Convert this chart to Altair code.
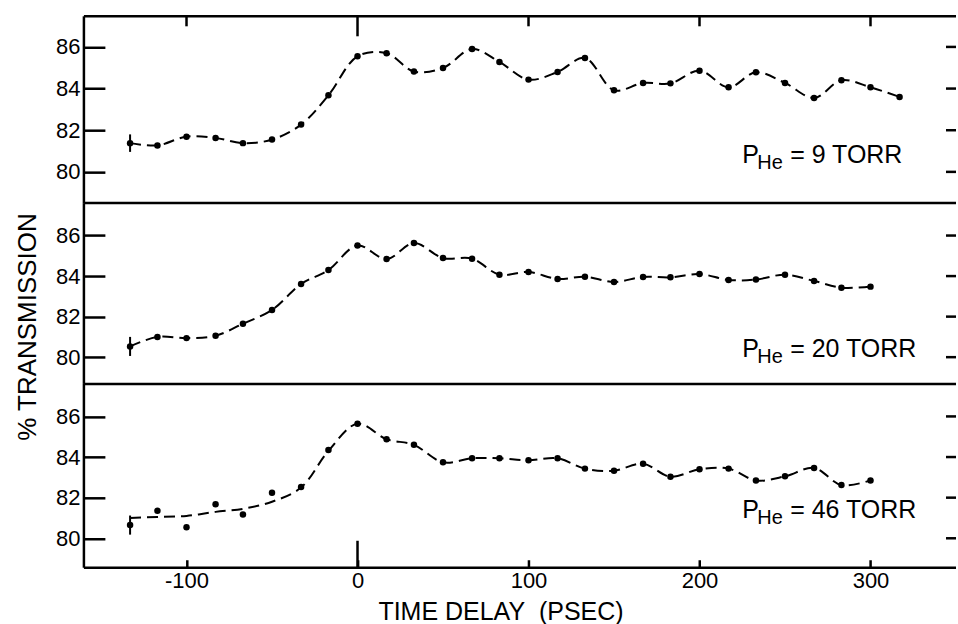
import altair as alt
import pandas as pd

FONT = "Liberation Sans"

# time delay (ps) of the measured points
X_DELAY = [-133, -117, -100, -83, -67, -50, -33, -17, 0, 17, 33, 50, 67, 83,
           100, 117, 133, 150, 167, 183, 200, 217, 233, 250, 267, 283, 300, 317]

# % transmission, P_He = 9 torr (28 points)
T_9 = [81.38, 81.27, 81.69, 81.63, 81.38, 81.55, 82.27, 83.68, 85.55, 85.70,
       84.82, 84.99, 85.90, 85.28, 84.43, 84.80, 85.47, 83.92, 84.27, 84.25,
       84.86, 84.06, 84.78, 84.27, 83.55, 84.40, 84.06, 83.60]

# % transmission, P_He = 20 torr (27 points)
T_20 = [80.53, 81.00, 80.94, 81.06, 81.65, 82.33, 83.61, 84.30, 85.51, 84.84,
        85.63, 84.89, 84.86, 84.07, 84.20, 83.86, 83.97, 83.71, 83.96, 83.94,
        84.10, 83.81, 83.83, 84.07, 83.76, 83.43, 83.48]

# % transmission, P_He = 46 torr (27 points)
T_46 = [80.65, 81.36, 80.54, 81.68, 81.17, 82.24, 82.52, 84.35, 85.64, 84.88,
        84.60, 83.74, 83.94, 83.94, 83.84, 83.94, 83.43, 83.33, 83.67, 83.03,
        83.40, 83.43, 82.85, 83.05, 83.46, 82.62, 82.85]

# dashed guide curve drawn through the 46 torr data
FIT_46 = [81.00, 81.05, 81.10, 81.30, 81.45, 81.80, 82.50, 84.30, 85.64, 84.88,
          84.60, 83.74, 83.94, 83.94, 83.84, 83.94, 83.43, 83.33, 83.67, 83.03,
          83.40, 83.43, 82.85, 83.05, 83.46, 82.62, 82.85]

ERR = [0.42, 0.47, 0.47]          # half-length of the error bar on the first point
PRESSURES = ["9", "20", "46"]
Y_TICKS = [80, 82, 84, 86]
X_TICKS = [-100, 0, 100, 200, 300]

# layout
W = 873
HEIGHTS = [187, 181, 184]
Y_DOMAINS = [[78.5, 87.47], [78.68, 87.6], [78.55, 87.6]]
X_DOMAIN = [-160, 350]
LABEL_X = 225
LABEL_Y = [80.42, 80.0, 81.02]

one = pd.DataFrame({"a": [0]})


def panel(i, xs, ys, curve):
    H = HEIGHTS[i]
    first = i == 0
    last = i == 2
    pts = pd.DataFrame({"t": xs, "v": ys})
    crv = pd.DataFrame({"t": xs, "v": curve})
    err = pd.DataFrame({"t": [xs[0]], "lo": [ys[0] - ERR[i]], "hi": [ys[0] + ERR[i]]})

    xscale = alt.Scale(domain=X_DOMAIN, nice=False, zero=False)
    yscale = alt.Scale(domain=Y_DOMAINS[i], nice=False, zero=False)
    if last:
        xaxis = alt.Axis(values=X_TICKS, tickSize=8, offset=-8, domain=False, grid=False,
                         labelFontSize=22, labelPadding=3, labelFlush=False,
                         labelExpr="datum.value < 0 ? '-' + abs(datum.value) : '' + datum.value",
                         title="TIME DELAY\u00a0 (PSEC)", titleFontSize=25, titleFont=FONT,
                         titleFontWeight="normal", titleX=417, titleY=60,
                         titleBaseline="alphabetic", titleAlign="center", titleColor="black")
    else:
        xaxis = None
    yaxis = alt.Axis(values=Y_TICKS, tickSize=21, offset=-21, domain=False, grid=False,
                     labelFontSize=22, labelPadding=4, title=None)

    x = alt.X("t:Q", scale=xscale, axis=xaxis)
    y = alt.Y("v:Q", scale=yscale, axis=yaxis)

    layers = []
    layers.append(alt.Chart(crv).mark_line(color="black", strokeWidth=2, strokeDash=[11, 6],
                                           interpolate="catmull-rom").encode(x=x, y=y))
    layers.append(alt.Chart(pts).mark_circle(color="black", size=42, opacity=1)
                  .encode(x="t:Q", y="v:Q"))
    layers.append(alt.Chart(err).mark_rule(color="black", strokeWidth=2)
                  .encode(x="t:Q", y="lo:Q", y2="hi:Q"))
    # right-hand inward ticks
    layers.append(alt.Chart(pd.DataFrame({"v": Y_TICKS})).mark_rule(color="black", strokeWidth=2.5)
                  .encode(y="v:Q", x=alt.value(W - 10), x2=alt.value(W)))
    # frame: left edge and bottom edge (and top for first panel)
    layers.append(alt.Chart(one).mark_rule(color="black", strokeWidth=2.5)
                  .encode(x=alt.value(0), y=alt.value(0), y2=alt.value(H)))
    layers.append(alt.Chart(one).mark_rule(color="black", strokeWidth=2.5)
                  .encode(x=alt.value(0), x2=alt.value(W), y=alt.value(H)))
    if first:
        layers.append(alt.Chart(one).mark_rule(color="black", strokeWidth=2.5)
                      .encode(x=alt.value(0), x2=alt.value(W), y=alt.value(0)))
        short = [t for t in X_TICKS if t != 0]
        layers.append(alt.Chart(pd.DataFrame({"t": short})).mark_rule(color="black", strokeWidth=2.5)
                      .encode(x="t:Q", y=alt.value(0), y2=alt.value(10)))
        layers.append(alt.Chart(pd.DataFrame({"t": [0]})).mark_rule(color="black", strokeWidth=2.5)
                      .encode(x="t:Q", y=alt.value(0), y2=alt.value(20)))
    if last:
        layers.append(alt.Chart(pd.DataFrame({"t": [0]})).mark_rule(color="black", strokeWidth=2.5)
                      .encode(x="t:Q", y=alt.value(H - 27), y2=alt.value(H)))
    if i == 1:
        layers.append(alt.Chart(one).mark_text(text="% TRANSMISSION", font=FONT, fontSize=26,
                                               angle=270, align="center", baseline="middle",
                                               color="black")
                      .encode(x=alt.value(-56), y=alt.value(124)))
    # pressure label  P_He = n TORR
    layers.append(alt.Chart(one).mark_text(text="P", font=FONT, fontSize=25, align="left",
                                           baseline="alphabetic", color="black")
                  .encode(x=alt.datum(LABEL_X), y=alt.datum(LABEL_Y[i])))
    layers.append(alt.Chart(one).mark_text(text="He", font=FONT, fontSize=20, align="left",
                                           baseline="alphabetic", color="black", dx=15, dy=6)
                  .encode(x=alt.datum(LABEL_X), y=alt.datum(LABEL_Y[i])))
    layers.append(alt.Chart(one).mark_text(text="= " + PRESSURES[i] + " TORR", font=FONT,
                                           fontSize=25, align="left", baseline="alphabetic",
                                           color="black", dx=48)
                  .encode(x=alt.datum(LABEL_X), y=alt.datum(LABEL_Y[i])))

    return alt.layer(*layers).properties(width=W, height=H)


p1 = panel(0, X_DELAY, T_9, T_9)
p2 = panel(1, X_DELAY[:27], T_20, T_20)
p3 = panel(2, X_DELAY[:27], T_46, FIT_46)

chart = alt.vconcat(p1, p2, p3, spacing=0, bounds="flush").properties(
    padding={"left": 14, "top": 14, "right": 0, "bottom": 0},
    background="white",
).configure_view(stroke=None).configure_axis(
    labelFont=FONT, labelColor="black", tickColor="black", tickWidth=2.5,
    titleFont=FONT, titleColor="black",
)

chart.save("out.html", embed_options={"renderer": "svg", "actions": False})
